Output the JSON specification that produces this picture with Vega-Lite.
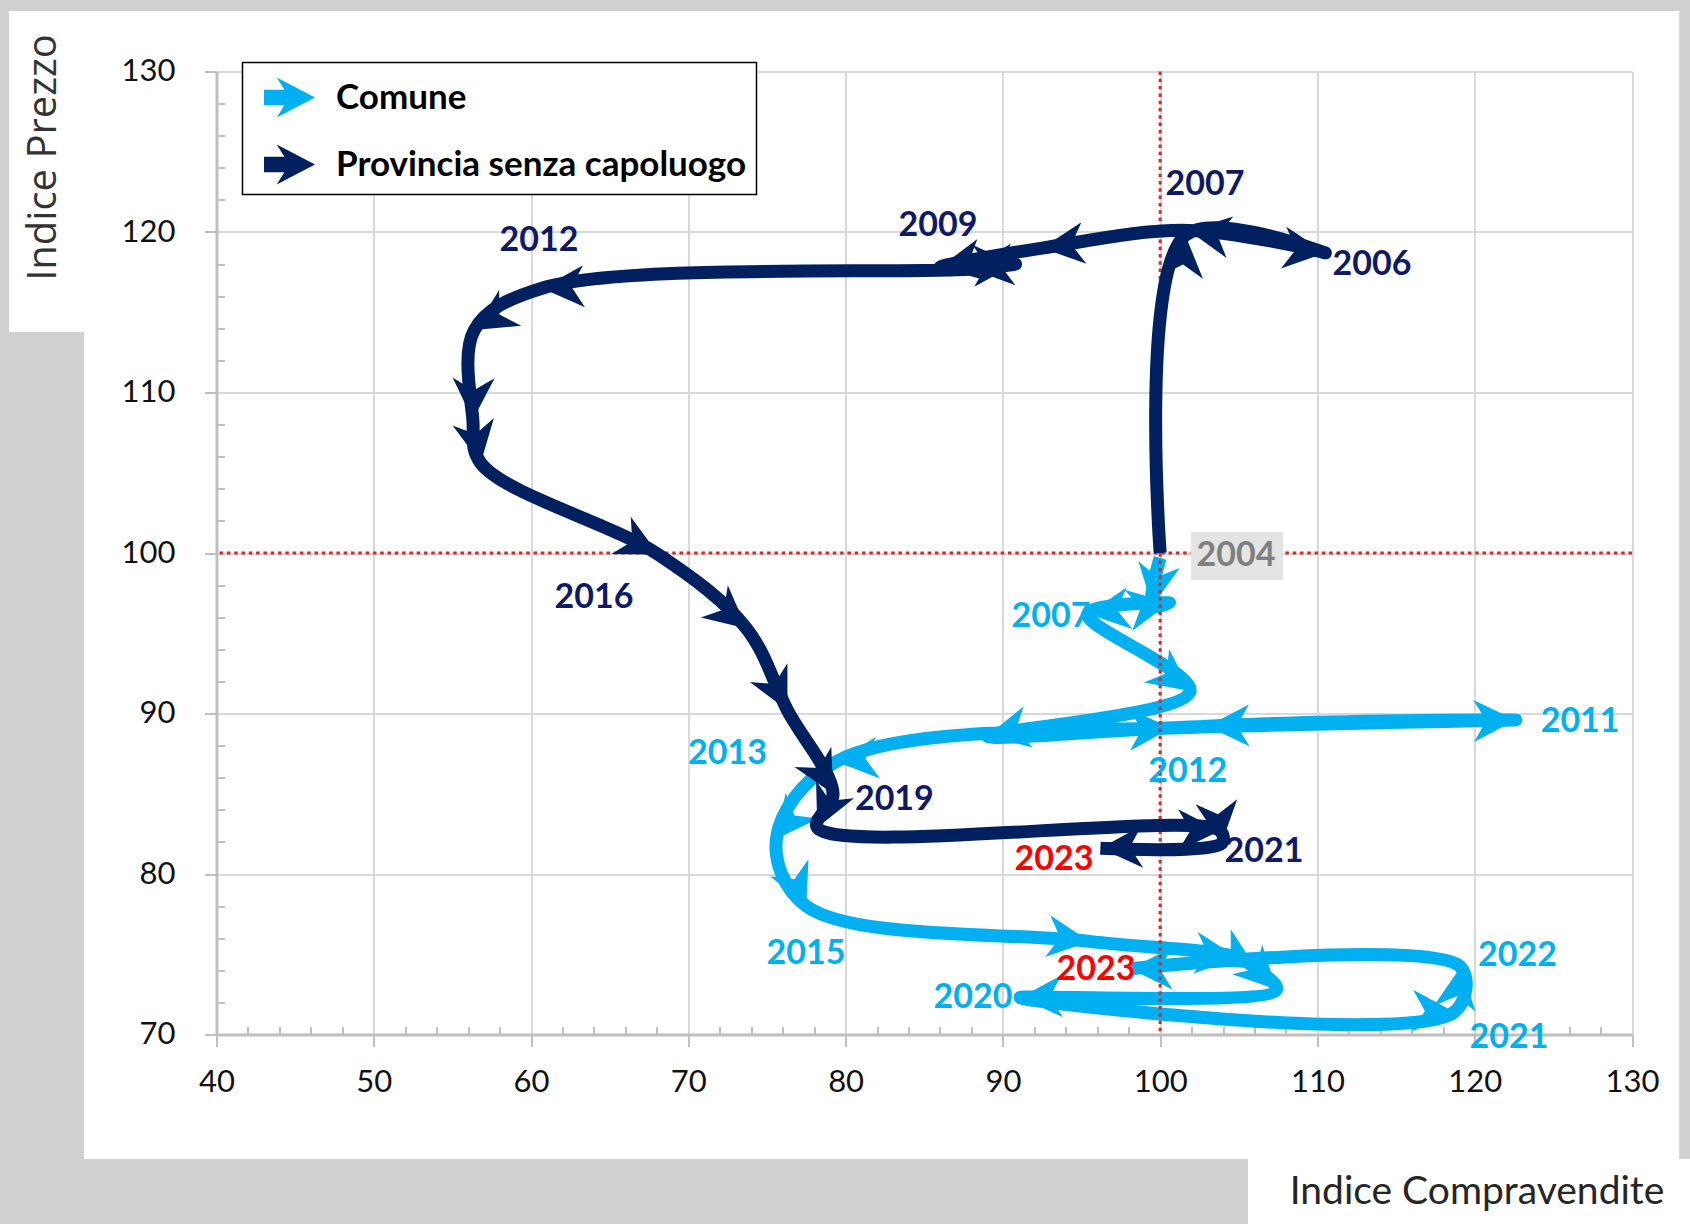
{
  "$schema": "https://vega.github.io/schema/vega-lite/v6.json",
  "width": 1415.5,
  "height": 963,
  "autosize": {"type": "none"},
  "padding": {"left": 216.5, "top": 71.5, "right": 58, "bottom": 189.5},
  "background": "#ffffff",
  "data": {"values": [{}]},
  "config": {
    "view": {"stroke": null},
    "font": "Lato",
    "axis": {
      "labelFont": "Lato", "labelFontSize": 31, "labelColor": "#111111",
      "gridColor": "#D9D9D9", "gridWidth": 2,
      "domainColor": "#BFBFBF", "domainWidth": 3,
      "tickColor": "#BFBFBF", "tickWidth": 2, "tickSize": 12,
      "titleColor": "#262626", "titleFontWeight": "normal",
      "labelFlush": false, "labelOverlap": false
    },
    "legend": {
      "orient": "none", "legendX": 26, "legendY": -9,
      "strokeColor": "#000000", "strokeWidth": 1.5, "fillColor": "#ffffff",
      "padding": 9.5, "rowPadding": 21, "symbolOffset": 12, "labelOffset": 21,
      "labelFont": "Lato", "labelFontSize": 35, "labelFontWeight": "bold", "labelColor": "#000000",
      "labelLimit": 700, "symbolSize": 2601, "symbolStrokeWidth": 0
    }
  },
  "datasets": {
    "serie": [
      {"serie": "Comune", "anno": 2004, "compravendite": 100.0, "prezzo": 99.7},
      {"serie": "Comune", "anno": 2005, "compravendite": 99.5, "prezzo": 96.7},
      {"serie": "Comune", "anno": 2006, "compravendite": 100.6, "prezzo": 96.9},
      {"serie": "Comune", "anno": 2007, "compravendite": 95.4, "prezzo": 96.2},
      {"serie": "Comune", "anno": 2008, "compravendite": 101.9, "prezzo": 91.4},
      {"serie": "Comune", "anno": 2009, "compravendite": 89.0, "prezzo": 88.6},
      {"serie": "Comune", "anno": 2010, "compravendite": 100.7, "prezzo": 89.1},
      {"serie": "Comune", "anno": 2011, "compravendite": 122.6, "prezzo": 89.6},
      {"serie": "Comune", "anno": 2012, "compravendite": 103.0, "prezzo": 89.2},
      {"serie": "Comune", "anno": 2013, "compravendite": 79.4, "prezzo": 87.0},
      {"serie": "Comune", "anno": 2014, "compravendite": 75.6, "prezzo": 82.2},
      {"serie": "Comune", "anno": 2015, "compravendite": 77.5, "prezzo": 78.0},
      {"serie": "Comune", "anno": 2016, "compravendite": 95.5, "prezzo": 75.8},
      {"serie": "Comune", "anno": 2017, "compravendite": 104.9, "prezzo": 74.8},
      {"serie": "Comune", "anno": 2018, "compravendite": 106.1, "prezzo": 74.1},
      {"serie": "Comune", "anno": 2019, "compravendite": 107.4, "prezzo": 72.8},
      {"serie": "Comune", "anno": 2020, "compravendite": 91.1, "prezzo": 72.3},
      {"serie": "Comune", "anno": 2021, "compravendite": 118.7, "prezzo": 71.4},
      {"serie": "Comune", "anno": 2022, "compravendite": 119.1, "prezzo": 74.2},
      {"serie": "Comune", "anno": 2023, "compravendite": 98.1, "prezzo": 74.1},
      {"serie": "Provincia senza capoluogo", "anno": 2004, "compravendite": 100.0, "prezzo": 100.0},
      {"serie": "Provincia senza capoluogo", "anno": 2005, "compravendite": 101.6, "prezzo": 119.8},
      {"serie": "Provincia senza capoluogo", "anno": 2006, "compravendite": 110.5, "prezzo": 118.7},
      {"serie": "Provincia senza capoluogo", "anno": 2007, "compravendite": 101.8, "prezzo": 120.1},
      {"serie": "Provincia senza capoluogo", "anno": 2008, "compravendite": 92.5, "prezzo": 119.0},
      {"serie": "Provincia senza capoluogo", "anno": 2009, "compravendite": 86.0, "prezzo": 117.8},
      {"serie": "Provincia senza capoluogo", "anno": 2010, "compravendite": 90.8, "prezzo": 118.0},
      {"serie": "Provincia senza capoluogo", "anno": 2011, "compravendite": 88.0, "prezzo": 117.7},
      {"serie": "Provincia senza capoluogo", "anno": 2012, "compravendite": 60.7, "prezzo": 116.5},
      {"serie": "Provincia senza capoluogo", "anno": 2013, "compravendite": 56.4, "prezzo": 113.9},
      {"serie": "Provincia senza capoluogo", "anno": 2014, "compravendite": 56.3, "prezzo": 108.3},
      {"serie": "Provincia senza capoluogo", "anno": 2015, "compravendite": 56.8, "prezzo": 105.6},
      {"serie": "Provincia senza capoluogo", "anno": 2016, "compravendite": 68.1, "prezzo": 99.9},
      {"serie": "Provincia senza capoluogo", "anno": 2017, "compravendite": 73.7, "prezzo": 95.3},
      {"serie": "Provincia senza capoluogo", "anno": 2018, "compravendite": 76.3, "prezzo": 90.2},
      {"serie": "Provincia senza capoluogo", "anno": 2019, "compravendite": 79.2, "prezzo": 85.0},
      {"serie": "Provincia senza capoluogo", "anno": 2020, "compravendite": 78.2, "prezzo": 82.9},
      {"serie": "Provincia senza capoluogo", "anno": 2021, "compravendite": 103.8, "prezzo": 82.7},
      {"serie": "Provincia senza capoluogo", "anno": 2022, "compravendite": 103.9, "prezzo": 81.9},
      {"serie": "Provincia senza capoluogo", "anno": 2023, "compravendite": 96.2, "prezzo": 81.6}
    ],
    "etichette": [
      {"testo": "2007", "gruppo": "Provincia senza capoluogo", "cx": 102.85, "cy": 122.9},
      {"testo": "2006", "gruppo": "Provincia senza capoluogo", "cx": 113.47, "cy": 117.94},
      {"testo": "2009", "gruppo": "Provincia senza capoluogo", "cx": 85.87, "cy": 120.37},
      {"testo": "2012", "gruppo": "Provincia senza capoluogo", "cx": 60.5, "cy": 119.41},
      {"testo": "2016", "gruppo": "Provincia senza capoluogo", "cx": 64.0, "cy": 97.2},
      {"testo": "2019", "gruppo": "Provincia senza capoluogo", "cx": 83.1, "cy": 84.63},
      {"testo": "2021", "gruppo": "Provincia senza capoluogo", "cx": 106.6, "cy": 81.34},
      {"testo": "2023", "gruppo": "2023", "cx": 93.25, "cy": 80.87},
      {"testo": "2023", "gruppo": "2023", "cx": 95.92, "cy": 74.02},
      {"testo": "2007", "gruppo": "Comune", "cx": 93.06, "cy": 96.04},
      {"testo": "2011", "gruppo": "Comune", "cx": 126.7, "cy": 89.47},
      {"testo": "2012", "gruppo": "Comune", "cx": 101.75, "cy": 86.37},
      {"testo": "2013", "gruppo": "Comune", "cx": 72.49, "cy": 87.45},
      {"testo": "2015", "gruppo": "Comune", "cx": 77.48, "cy": 75.02},
      {"testo": "2020", "gruppo": "Comune", "cx": 88.1, "cy": 72.27},
      {"testo": "2022", "gruppo": "Comune", "cx": 122.72, "cy": 74.89},
      {"testo": "2021", "gruppo": "Comune", "cx": 122.18, "cy": 69.78},
      {"testo": "2004", "gruppo": "2004", "cx": 104.82, "cy": 99.81}
    ]
  },
  "resolve": {"axis": {"x": "independent", "y": "independent"}},
  "layer": [
    {"mark": {"type": "rect", "color": "#d0d0d0"},
     "encoding": {"x": {"datum": 26, "type": "quantitative", "scale": {"domain": [40, 130], "nice": false, "zero": false}, "axis": null}, "x2": {"datum": 31.58},
                  "y": {"datum": 58, "type": "quantitative", "scale": {"domain": [70, 130], "nice": false, "zero": false}, "axis": null}, "y2": {"datum": 113.77}}},
    {"mark": {"type": "rect", "color": "#d0d0d0"},
     "encoding": {"x": {"datum": 26, "type": "quantitative", "scale": {"domain": [40, 130], "nice": false, "zero": false}, "axis": null}, "x2": {"datum": 105.58},
                  "y": {"datum": 58, "type": "quantitative", "scale": {"domain": [70, 130], "nice": false, "zero": false}, "axis": null}, "y2": {"datum": 62.24}}},
    {"mark": {"type": "rect", "color": "#d0d0d0"},
     "encoding": {"x": {"datum": 26, "type": "quantitative", "scale": {"domain": [40, 130], "nice": false, "zero": false}, "axis": null}, "x2": {"datum": 134},
                  "y": {"datum": 133.77, "type": "quantitative", "scale": {"domain": [70, 130], "nice": false, "zero": false}, "axis": null}, "y2": {"datum": 135}}},
    {"mark": {"type": "rect", "color": "#d0d0d0"},
     "encoding": {"x": {"datum": 133.0, "type": "quantitative", "scale": {"domain": [40, 130], "nice": false, "zero": false}, "axis": null}, "x2": {"datum": 134},
                  "y": {"datum": 62.24, "type": "quantitative", "scale": {"domain": [70, 130], "nice": false, "zero": false}, "axis": null}, "y2": {"datum": 135}}},
    {"mark": {"type": "rect", "color": "#d0d0d0"},
     "encoding": {"x": {"datum": 26, "type": "quantitative", "scale": {"domain": [40, 130], "nice": false, "zero": false}, "axis": null}, "x2": {"datum": 26.81},
                  "y": {"datum": 113.77, "type": "quantitative", "scale": {"domain": [70, 130], "nice": false, "zero": false}, "axis": null}, "y2": {"datum": 135}}},
    {
      "data": {"name": "serie"},
      "transform": [{"filter": "datum.serie === 'Comune'"}],
      "mark": {"type": "line", "color": "#00B0F0", "strokeWidth": 13, "interpolate": "catmull-rom", "strokeCap": "butt", "strokeJoin": "round"},
      "encoding": {
        "x": {"field": "compravendite", "type": "quantitative", "scale": {"domain": [40, 130], "nice": false, "zero": false},
              "axis": {"values": [40, 50, 60, 70, 80, 90, 100, 110, 120, 130], "grid": true, "orient": "bottom", "labelPadding": 21,
                       "title": "Indice Compravendite", "titleFont": "Lato", "titleFontSize": 39, "titleX": 1260, "titleY": 156.5, "titleAlign": "center", "titleBaseline": "middle"}},
        "y": {"field": "prezzo", "type": "quantitative", "scale": {"domain": [70, 130], "nice": false, "zero": false},
              "axis": {"values": [70, 80, 90, 100, 110, 120, 130], "grid": true, "orient": "left", "labelPadding": 29.5,
                       "title": "Indice Prezzo", "titleFont": "Open Sans", "titleFontSize": 40, "titleColor": "#333333", "titleAngle": 270, "titleX": -173.5, "titleY": 85.5, "titleAlign": "center", "titleBaseline": "middle"}},
        "order": {"field": "anno", "type": "quantitative"}
      }
    },
    {
      "data": {"name": "serie"},
      "transform": [
        {"filter": "datum.serie === 'Comune'"},
        {"window": [{"op": "lag", "field": "compravendite", "as": "x0"}, {"op": "lag", "field": "prezzo", "as": "y0"}], "sort": [{"field": "anno", "order": "ascending"}]},
        {"filter": "datum.x0 != null"},
        {"calculate": "atan2(-(datum.prezzo - datum.y0) * 16.05, (datum.compravendite - datum.x0) * 15.728) * 180 / PI", "as": "angolo"}
      ],
      "mark": {"type": "point", "shape": "M0,0L-1,-0.5L-0.7,0L-1,0.5Z", "size": 7056, "filled": true, "color": "#00B0F0", "opacity": 1, "strokeWidth": 0},
      "encoding": {
        "x": {"field": "compravendite", "type": "quantitative", "scale": {"domain": [40, 130], "nice": false, "zero": false}, "axis": null},
        "y": {"field": "prezzo", "type": "quantitative", "scale": {"domain": [70, 130], "nice": false, "zero": false}, "axis": null},
        "angle": {"field": "angolo", "type": "quantitative", "scale": null}
      }
    },
    {"mark": {"type": "rule", "color": "#D42A2A", "strokeWidth": 3, "strokeDash": [3.5, 3.8]},
     "encoding": {"x": {"datum": 100, "type": "quantitative", "scale": {"domain": [40, 130], "nice": false, "zero": false}, "axis": null}}},
    {"mark": {"type": "rule", "color": "#D42A2A", "strokeWidth": 3, "strokeDash": [3.5, 3.8]},
     "encoding": {"y": {"datum": 100, "type": "quantitative", "scale": {"domain": [70, 130], "nice": false, "zero": false}, "axis": null}}},
    {
      "data": {"name": "serie"},
      "transform": [{"filter": "datum.serie === 'Provincia senza capoluogo'"}],
      "mark": {"type": "line", "color": "#002060", "strokeWidth": 13, "interpolate": "catmull-rom", "strokeCap": "butt", "strokeJoin": "round"},
      "encoding": {
        "x": {"field": "compravendite", "type": "quantitative", "scale": {"domain": [40, 130], "nice": false, "zero": false}, "axis": null},
        "y": {"field": "prezzo", "type": "quantitative", "scale": {"domain": [70, 130], "nice": false, "zero": false}, "axis": null},
        "order": {"field": "anno", "type": "quantitative"}
      }
    },
    {
      "data": {"name": "serie"},
      "transform": [
        {"filter": "datum.serie === 'Provincia senza capoluogo'"},
        {"window": [{"op": "lag", "field": "compravendite", "as": "x0"}, {"op": "lag", "field": "prezzo", "as": "y0"}], "sort": [{"field": "anno", "order": "ascending"}]},
        {"filter": "datum.x0 != null"},
        {"calculate": "atan2(-(datum.prezzo - datum.y0) * 16.05, (datum.compravendite - datum.x0) * 15.728) * 180 / PI", "as": "angolo"}
      ],
      "mark": {"type": "point", "shape": "M0,0L-1,-0.5L-0.7,0L-1,0.5Z", "size": 7056, "filled": true, "color": "#002060", "opacity": 1, "strokeWidth": 0},
      "encoding": {
        "x": {"field": "compravendite", "type": "quantitative", "scale": {"domain": [40, 130], "nice": false, "zero": false}, "axis": null},
        "y": {"field": "prezzo", "type": "quantitative", "scale": {"domain": [70, 130], "nice": false, "zero": false}, "axis": null},
        "angle": {"field": "angolo", "type": "quantitative", "scale": null}
      }
    },
    {"mark": {"type": "rect", "color": "#E4E4E4"},
     "encoding": {"x": {"datum": 101.96, "type": "quantitative", "scale": {"domain": [40, 130], "nice": false, "zero": false}, "axis": null}, "x2": {"datum": 107.81},
                  "y": {"datum": 101.31, "type": "quantitative", "scale": {"domain": [70, 130], "nice": false, "zero": false}, "axis": null}, "y2": {"datum": 98.32}}},
    {
      "data": {"name": "etichette"},
      "mark": {"type": "text", "font": "Lato", "fontSize": 34, "fontWeight": "bold", "align": "center", "baseline": "middle"},
      "encoding": {
        "x": {"field": "cx", "type": "quantitative", "scale": {"domain": [40, 130], "nice": false, "zero": false}, "axis": null},
        "y": {"field": "cy", "type": "quantitative", "scale": {"domain": [70, 130], "nice": false, "zero": false}, "axis": null},
        "text": {"field": "testo"},
        "color": {"field": "gruppo", "type": "nominal",
                  "scale": {"domain": ["Comune", "Provincia senza capoluogo", "2023", "2004"], "range": ["#00B0F0", "#101966", "#FF0000", "#7F7F7F"]},
                  "legend": null}
      }
    },
    {
      "data": {"name": "serie"},
      "transform": [{"filter": "false"}],
      "mark": {"type": "point", "shape": "M1,0L-0.5,-0.78L-0.2,-0.3L-1,-0.3L-1,0.3L-0.2,0.3L-0.5,0.78Z", "filled": true, "opacity": 1, "strokeWidth": 0, "size": 2601},
      "encoding": {
        "x": {"field": "compravendite", "type": "quantitative", "scale": {"domain": [40, 130], "nice": false, "zero": false}, "axis": null},
        "y": {"field": "prezzo", "type": "quantitative", "scale": {"domain": [70, 130], "nice": false, "zero": false}, "axis": null},
        "fill": {"field": "serie", "type": "nominal",
                 "scale": {"domain": ["Comune", "Provincia senza capoluogo"], "range": ["#00B0F0", "#002060"]},
                 "legend": {"title": null}}
      }
    },
    {
      "mark": {"type": "point", "opacity": 0},
      "encoding": {
        "x": {"datum": 100, "type": "quantitative", "scale": {"domain": [40, 130], "nice": false, "zero": false},
              "axis": {"orient": "bottom", "values": [42, 44, 46, 48, 52, 54, 56, 58, 62, 64, 66, 68, 72, 74, 76, 78, 82, 84, 86, 88, 92, 94, 96, 98, 102, 104, 106, 108, 112, 114, 116, 118, 122, 124, 126, 128],
                       "labels": false, "grid": false, "domain": false, "ticks": true, "tickSize": -8, "title": null}},
        "y": {"datum": 100, "type": "quantitative", "scale": {"domain": [70, 130], "nice": false, "zero": false},
              "axis": {"orient": "left", "values": [72, 74, 76, 78, 82, 84, 86, 88, 92, 94, 96, 98, 102, 104, 106, 108, 112, 114, 116, 118, 122, 124, 126, 128],
                       "labels": false, "grid": false, "domain": false, "ticks": true, "tickSize": -8, "title": null}}
      }
    }
  ]
}
